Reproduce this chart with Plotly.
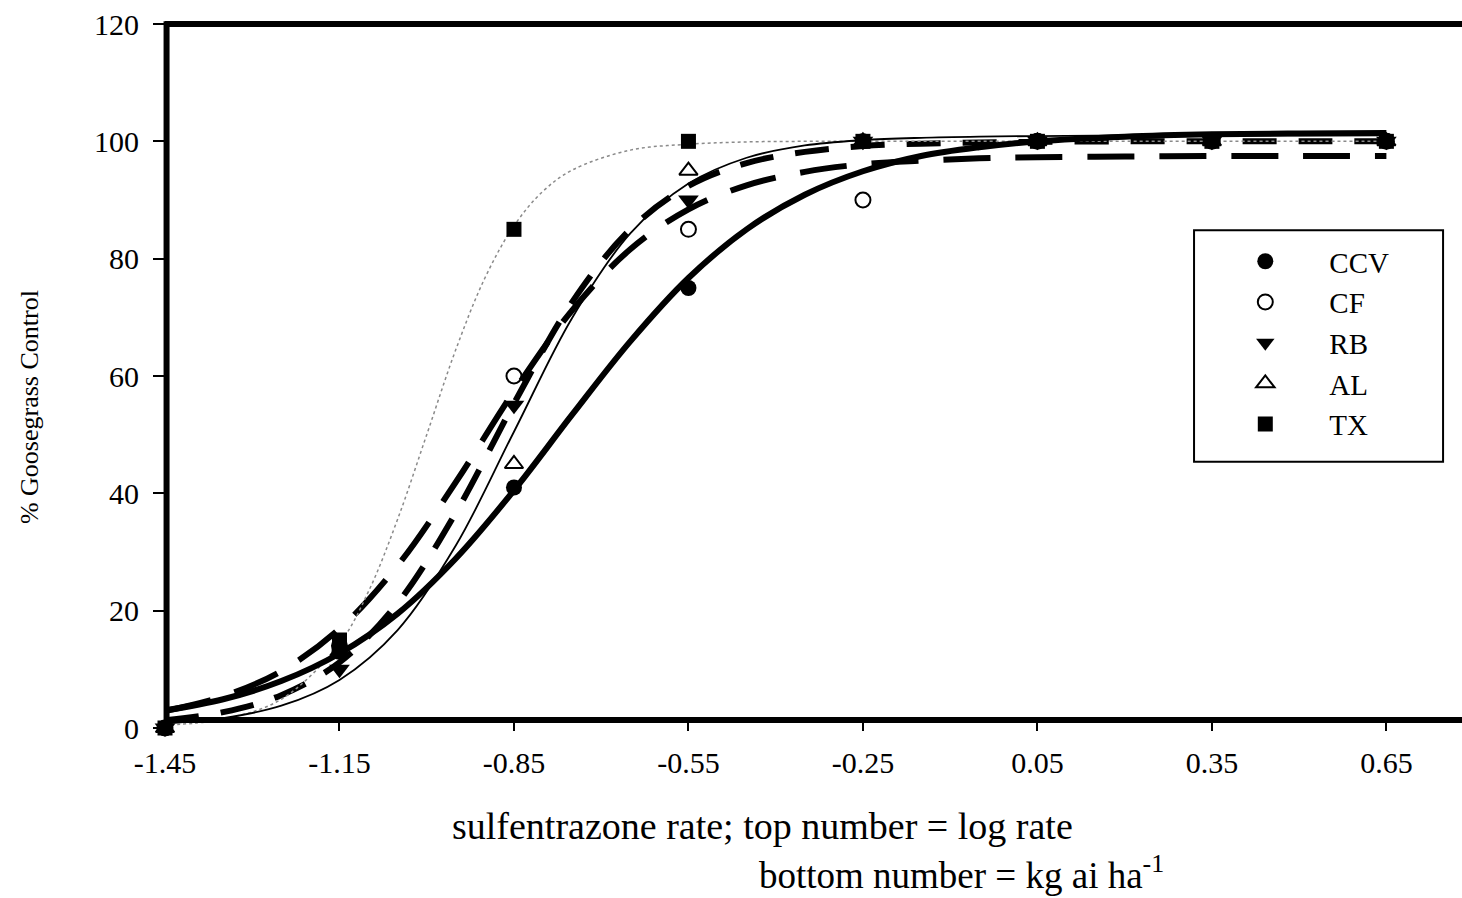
import plotly.graph_objects as go

# Observed % goosegrass control at each log rate of sulfentrazone
log_rate = [-1.45, -1.15, -0.85, -0.55, -0.25, 0.05, 0.35, 0.65]
ccv_obs = [0, 13, 41, 75, 100, 100, 100, 100]
cf_obs = [0, 14, 60, 85, 90, 100, 100, 100]
rb_obs = [0, 10, 55, 90, 100, 100, 100, 100]
al_obs = [0, 13, 45, 95, 100, 100, 100, 100]
tx_obs = [0, 15, 85, 100, 100, 100, 100, 100]

# Fitted dose-response curves
fit_x = [-1.45, -1.35, -1.25, -1.15, -1.05, -0.95, -0.85, -0.75, -0.65, -0.55,
         -0.45, -0.35, -0.25, -0.15, -0.05, 0.05, 0.20, 0.35, 0.50, 0.65]
ccv_fit = [3.0, 4.9, 8.0, 12.7, 19.5, 28.9, 40.5, 53.4, 65.9, 76.7,
           85.0, 90.9, 94.9, 97.5, 99.0, 100.0, 100.8, 101.2, 101.35, 101.4]
al_fit = [0.8, 1.7, 3.8, 8.2, 16.7, 31.1, 50.5, 69.9, 84.3, 92.8,
          97.2, 99.3, 100.2, 100.6, 100.8, 100.9, 101.0, 101.0, 101.0, 101.0]
cf_fit = [2.9, 5.4, 9.7, 16.9, 27.7, 41.9, 57.4, 71.2, 81.6, 88.4,
          92.5, 94.8, 96.1, 96.7, 97.1, 97.3, 97.4, 97.5, 97.5, 97.5]
rb_fit = [1.3, 2.7, 5.6, 11.2, 21.3, 36.7, 55.3, 72.6, 85.0, 92.4,
          96.3, 98.2, 99.2, 99.6, 99.8, 99.9, 100.0, 100.0, 100.0, 100.0]
tx_x = [-1.45, -1.35, -1.25, -1.15, -1.10, -1.05, -1.00, -0.95, -0.90, -0.85,
        -0.80, -0.75, -0.65, -0.55, -0.45, -0.35, -0.25, 0.05, 0.35, 0.65]
tx_fit = [0.5, 1.5, 4.9, 14.4, 23.3, 35.6, 50.0, 64.5, 76.7, 85.6,
          91.5, 95.1, 98.5, 99.5, 99.9, 100.0, 100.0, 100.0, 100.0, 100.0]

x_ticks = [-1.45, -1.15, -0.85, -0.55, -0.25, 0.05, 0.35, 0.65]
x_tick_text = ["-1.45", "-1.15", "-0.85", "-0.55", "-0.25", "0.05", "0.35", "0.65"]
y_ticks = [0, 20, 40, 60, 80, 100, 120]

FONT = "Liberation Serif"
fig = go.Figure()

# curves (drawn beneath the symbols)
curves = [
    (fit_x, cf_fit, 6, "47px,25px", "black"),
    (fit_x, rb_fit, 6, "34px,22px", "black"),
    (tx_x, tx_fit, 1.5, "dot", "#8a8a8a"),
    (fit_x, al_fit, 1.8, "solid", "black"),
    (fit_x, ccv_fit, 6, "solid", "black"),
]
for cx, cy, w, dash, col in curves:
    fig.add_trace(go.Scatter(
        x=cx, y=cy, mode="lines", showlegend=False, hoverinfo="skip",
        line=dict(shape="spline", smoothing=1, width=w, dash=dash, color=col),
        cliponaxis=False))

# observed values
series = [
    ("CCV", ccv_obs, "circle", 16, "black", 0),
    ("CF", cf_obs, "circle-open", 15, "black", 2),
    ("RB", rb_obs, "triangle-down", 18, "black", 0),
    ("AL", al_obs, "triangle-up-open", 16, "black", 2),
    ("TX", tx_obs, "square", 15, "black", 0),
]
for name, ys, sym, size, col, lw in series:
    fig.add_trace(go.Scatter(
        x=log_rate, y=ys, mode="markers", name=name, cliponaxis=False,
        marker=dict(symbol=sym, size=size, color=col,
                    line=dict(width=lw, color="black"))))

fig.update_layout(
    width=1462, height=898,
    margin=dict(l=165, r=0, t=24, b=170),
    plot_bgcolor="white", paper_bgcolor="white",
    font=dict(family=FONT, color="black"),
    xaxis=dict(range=[-1.45, 0.78], tickvals=x_ticks, ticktext=x_tick_text,
               showgrid=False, zeroline=False, showline=True, linewidth=6,
               linecolor="black", ticks="outside", ticklen=8, tickwidth=2,
               tickcolor="black", tickfont=dict(size=30, family=FONT),
               anchor="free", position=0.011, ticklabelstandoff=6),
    yaxis=dict(range=[0, 120], tickvals=y_ticks, showgrid=False, zeroline=False,
               showline=False, ticks="outside",
               ticklen=11, tickwidth=2, tickcolor="black",
               tickfont=dict(size=30, family=FONT), ticklabelstandoff=8),
    legend=dict(x=0.799, y=0.699, xanchor="left", yanchor="top",
                bgcolor="rgba(0,0,0,0)", borderwidth=0, itemwidth=118,
                font=dict(size=29, family=FONT)),
    shapes=[
        # left frame edge and top border
        dict(type="line", xref="paper", yref="paper", x0=0.0012, x1=0.0012,
             y0=-0.004, y1=1.004, line=dict(color="black", width=6)),
        dict(type="line", xref="paper", yref="paper", x0=0, x1=1, y0=1, y1=1,
             line=dict(color="black", width=6)),
        # legend frame
        dict(type="rect", xref="paper", yref="paper", x0=0.7934, x1=0.9854,
             y0=0.3783, y1=0.7069, line=dict(color="black", width=2)),
    ],
    annotations=[
        dict(text="% Goosegrass Control", xref="paper", yref="paper",
             x=-0.104, y=0.456, textangle=-90, showarrow=False,
             xanchor="center", yanchor="middle", font=dict(size=26, family=FONT)),
        dict(text="sulfentrazone rate; top number = log rate", xref="paper",
             yref="paper", x=0.4603, y=-0.1388, showarrow=False,
             xanchor="center", yanchor="middle", font=dict(size=38, family=FONT)),
        dict(text="bottom number = kg ai ha<sup>-1</sup>", xref="paper",
             yref="paper", x=0.4564, y=-0.2055, showarrow=False,
             xanchor="left", yanchor="middle", font=dict(size=37, family=FONT)),
    ],
)

fig.write_html("out.html")
